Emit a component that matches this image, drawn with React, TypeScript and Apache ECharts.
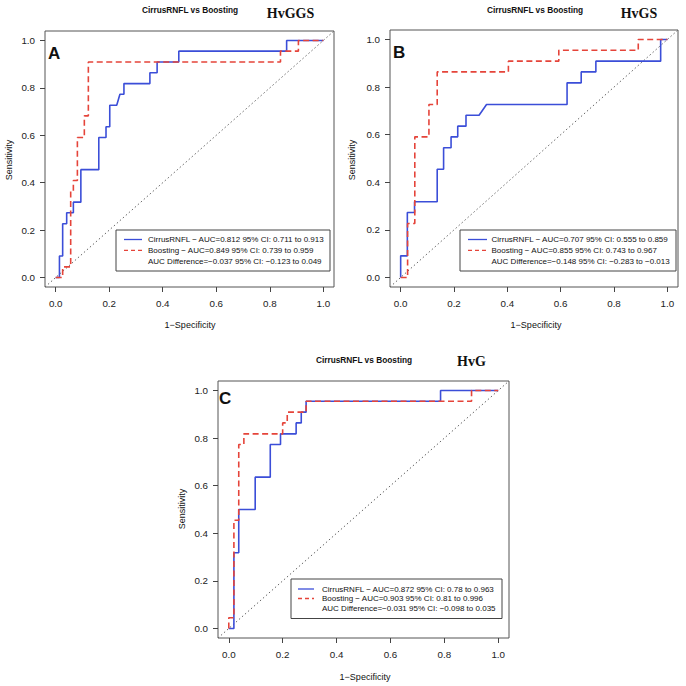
import React, { useEffect, useRef } from 'react';
import * as echarts from 'echarts';

// ---------- data ----------
const tickValues = [0, 0.2, 0.4, 0.6, 0.8, 1.0];
const chartTitle = 'CirrusRNFL vs Boosting';
const xName = '1\u2212Specificity';
const yName = 'Sensitivity';
const panelLetters = ['A', 'B', 'C'];
const panelTags = ['HvGGS', 'HvGS', 'HvG'];

// ROC points [1-specificity, sensitivity]
const cirrusA = [[0, 0], [0.014, 0], [0.014, 0.091], [0.026, 0.091], [0.026, 0.227], [0.041, 0.227], [0.041, 0.273], [0.066, 0.273], [0.066, 0.318], [0.094, 0.318], [0.094, 0.455], [0.161, 0.455], [0.161, 0.591], [0.188, 0.591], [0.188, 0.636], [0.202, 0.636], [0.202, 0.727], [0.228, 0.727], [0.24, 0.773], [0.255, 0.773], [0.255, 0.818], [0.352, 0.818], [0.352, 0.864], [0.379, 0.864], [0.379, 0.909], [0.46, 0.909], [0.46, 0.955], [0.863, 0.955], [0.863, 1], [1, 1]];
const boostingA = [[0, 0], [0.026, 0], [0.026, 0.045], [0.056, 0.045], [0.056, 0.364], [0.066, 0.364], [0.066, 0.409], [0.081, 0.409], [0.081, 0.591], [0.107, 0.591], [0.107, 0.682], [0.122, 0.682], [0.122, 0.909], [0.84, 0.909], [0.84, 0.955], [0.907, 0.955], [0.907, 1], [1, 1]];

const cirrusB = [[0, 0], [0, 0.091], [0.025, 0.091], [0.025, 0.273], [0.052, 0.273], [0.052, 0.318], [0.137, 0.318], [0.137, 0.455], [0.161, 0.455], [0.161, 0.545], [0.189, 0.545], [0.189, 0.591], [0.214, 0.591], [0.214, 0.636], [0.245, 0.636], [0.245, 0.682], [0.294, 0.682], [0.322, 0.727], [0.624, 0.727], [0.624, 0.818], [0.677, 0.818], [0.677, 0.864], [0.732, 0.864], [0.732, 0.909], [0.975, 0.909], [0.975, 1], [1, 1]];
const boostingB = [[0, 0], [0.026, 0], [0.026, 0.227], [0.053, 0.227], [0.053, 0.591], [0.106, 0.591], [0.106, 0.727], [0.137, 0.727], [0.137, 0.864], [0.404, 0.864], [0.404, 0.909], [0.593, 0.909], [0.593, 0.955], [0.891, 0.955], [0.891, 1], [1, 1]];

const cirrusC = [[0, 0], [0.019, 0], [0.019, 0.318], [0.037, 0.318], [0.037, 0.5], [0.098, 0.5], [0.098, 0.636], [0.154, 0.636], [0.154, 0.773], [0.192, 0.773], [0.192, 0.818], [0.25, 0.818], [0.25, 0.864], [0.269, 0.864], [0.269, 0.909], [0.287, 0.909], [0.287, 0.955], [0.786, 0.955], [0.786, 1], [1, 1]];
const boostingC = [[0, 0], [0, 0.045], [0.019, 0.045], [0.019, 0.455], [0.037, 0.455], [0.037, 0.773], [0.056, 0.773], [0.056, 0.818], [0.2, 0.818], [0.2, 0.864], [0.217, 0.864], [0.217, 0.909], [0.287, 0.909], [0.287, 0.955], [0.901, 0.955], [0.901, 1], [1, 1]];

const diagonal = [[-0.04, -0.04], [1.04, 1.04]];

const legendA = ['CirrusRNFL \u2212 AUC=0.812 95% CI: 0.711 to 0.913', 'Boosting \u2212 AUC=0.849 95% CI: 0.739 to 0.959', 'AUC Difference=\u22120.037 95% CI: \u22120.123 to 0.049'];
const legendB = ['CirrusRNFL \u2212 AUC=0.707 95% CI: 0.555 to 0.859', 'Boosting \u2212 AUC=0.855 95% CI: 0.743 to 0.967', 'AUC Difference=\u22120.148 95% CI: \u22120.283 to \u22120.013'];
const legendC = ['CirrusRNFL \u2212 AUC=0.872 95% CI: 0.78 to 0.963', 'Boosting \u2212 AUC=0.903 95% CI: 0.81 to 0.996', 'AUC Difference=\u22120.031 95% CI: \u22120.098 to 0.035'];

// ---------- layout ----------
const SANS = '"Liberation Sans", Arial, Helvetica, sans-serif';
const SERIF = '"Liberation Serif", "Times New Roman", serif';
const BLUE = '#3b4ed8';
const RED = '#e5443a';

const layouts = [
  { grid: { left: 45, top: 31, width: 289, height: 256 }, titleX: 190, titleY: 9.5, tagX: 290.5, tagY: 13, letterX: 48, letterY: 53, yNameX: 8.5, yNameY: 160, xNameX: 190, xNameY: 325,
    legBox: [116, 230, 214, 41], legLineX: [124, 142], legTextX: 148, legRows: [239.5, 250.3, 261] },
  { grid: { left: 390, top: 30, width: 288, height: 257 }, titleX: 535, titleY: 9.5, tagX: 639, tagY: 13, letterX: 393, letterY: 52, yNameX: 351.5, yNameY: 160, xNameX: 536, xNameY: 325,
    legBox: [460, 230, 216, 41], legLineX: [468, 487], legTextX: 491.5, legRows: [239.5, 250.3, 261] },
  { grid: { left: 218, top: 381, width: 291, height: 257 }, titleX: 364, titleY: 359.5, tagX: 471.5, tagY: 361, letterX: 219, letterY: 398, yNameX: 182, yNameY: 509, xNameX: 365, xNameY: 677,
    legBox: [291, 579, 211, 39.5], legLineX: [298, 314], legTextX: 322, legRows: [589, 598.5, 608] },
];

const curves = [[cirrusA, boostingA], [cirrusB, boostingB], [cirrusC, boostingC]];
const legends = [legendA, legendB, legendC];

function textEl(text: string, x: number, y: number, font: string, align: string, extra: any = {}) {
  return {
    type: 'text', x, y, ...extra,
    style: { text, font, fill: '#111', textAlign: align, textVerticalAlign: 'middle', align, verticalAlign: 'middle' },
  };
}

export default function App() {
  const ref = useRef<HTMLDivElement>(null);
  useEffect(() => {
    if (!ref.current) return;
    const chart = echarts.init(ref.current, null, { renderer: 'svg' });

    const grids: any[] = [];
    const xAxes: any[] = [];
    const yAxes: any[] = [];
    const series: any[] = [];
    const graphics: any[] = [];

    layouts.forEach((L, i) => {
      grids.push({ ...L.grid, show: true, borderColor: '#555', borderWidth: 1, containLabel: false });
      const axisCommon = {
        type: 'value', min: -0.04, max: 1.04, splitLine: { show: false },
        axisLine: { show: false, onZero: false },
        axisTick: { show: true, inside: false, customValues: tickValues, length: 5, lineStyle: { color: '#444', width: 1 } },
        axisLabel: { customValues: tickValues, formatter: (v: number) => v.toFixed(1), color: '#222', fontFamily: SANS, fontSize: 9.8 },
      };
      xAxes.push({ ...axisCommon, gridIndex: i, position: 'bottom', axisLabel: { ...axisCommon.axisLabel, margin: 11 } });
      yAxes.push({ ...axisCommon, gridIndex: i, position: 'left', axisLabel: { ...axisCommon.axisLabel, margin: 10 } });

      series.push({ type: 'line', xAxisIndex: i, yAxisIndex: i, data: diagonal, symbol: 'none', silent: true,
        lineStyle: { color: '#666', width: 1, type: [1.5, 2.5] }, clip: true, z: 1 });
      series.push({ type: 'line', name: 'CirrusRNFL', xAxisIndex: i, yAxisIndex: i, data: curves[i][0], symbol: 'none',
        lineStyle: { color: BLUE, width: 1.6 }, clip: true, z: 2 });
      series.push({ type: 'line', name: 'Boosting', xAxisIndex: i, yAxisIndex: i, data: curves[i][1], symbol: 'none',
        lineStyle: { color: RED, width: 1.6, type: [6, 3.5] }, clip: true, z: 3 });

      graphics.push(textEl(chartTitle, L.titleX, L.titleY, `bold 8.3px ${SANS}`, 'center'));
      graphics.push(textEl(panelTags[i], L.tagX, L.tagY, `bold 14px ${SERIF}`, 'center'));
      graphics.push(textEl(panelLetters[i], L.letterX, L.letterY, `bold 17px ${SANS}`, 'left', { z: 10 }));
      graphics.push(textEl(yName, L.yNameX, L.yNameY, `9px ${SANS}`, 'center', { rotation: Math.PI / 2 }));
      graphics.push(textEl(xName, L.xNameX, L.xNameY, `9px ${SANS}`, 'center'));

      const [bx, by, bw, bh] = L.legBox;
      graphics.push({ type: 'rect', shape: { x: bx, y: by, width: bw, height: bh }, style: { fill: '#fff', stroke: '#444', lineWidth: 1 }, z: 5 });
      graphics.push({ type: 'line', shape: { x1: L.legLineX[0], y1: L.legRows[0], x2: L.legLineX[1], y2: L.legRows[0] }, style: { stroke: BLUE, lineWidth: 1.3 }, z: 6 });
      graphics.push({ type: 'line', shape: { x1: L.legLineX[0], y1: L.legRows[1], x2: L.legLineX[1], y2: L.legRows[1] }, style: { stroke: RED, lineWidth: 1.3, lineDash: [4, 3] }, z: 6 });
      legends[i].forEach((t, k) => {
        graphics.push(textEl(t, L.legTextX, L.legRows[k], `8px ${SANS}`, 'left', { z: 6 }));
      });
    });

    chart.setOption({
      animation: false,
      backgroundColor: '#fff',
      grid: grids,
      xAxis: xAxes,
      yAxis: yAxes,
      series,
      graphic: { elements: graphics },
    });
    return () => chart.dispose();
  }, []);
  return <div ref={ref} style={{ position: 'fixed', left: 0, top: 0, width: 686, height: 686 }} />;
}
